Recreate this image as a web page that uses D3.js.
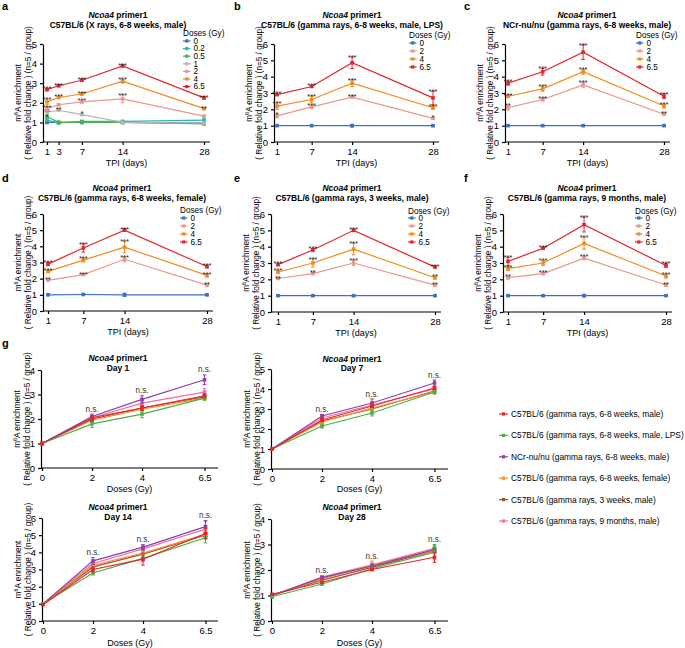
<!DOCTYPE html>
<html><head><meta charset="utf-8">
<script src="https://cdn.jsdelivr.net/npm/d3@7"></script>
<style>body{margin:0;background:#fff} svg text{font-family:Arial,"Liberation Sans",Helvetica,sans-serif}</style>
</head><body><svg id="c" width="685" height="648"></svg>
<script>
// ---------------- DATA ----------------
const daysA = [1, 3, 7, 14, 28];
const days4 = [1, 7, 14, 28];
const dosesA = ["0", "0.2", "0.5", "1", "2", "4", "6.5"];
const doses4 = ["0", "2", "4", "6.5"];
const colorsA = ["#3d6fc2", "#2fb5b5", "#4daf4a", "#b5b5b5", "#ea978c", "#f08c1e", "#e3262b"];
const colors4 = ["#3d6fc2", "#ea978c", "#f08c1e", "#e3262b"];

// panel a (X rays) rows = doses 0,0.2,0.5,1,2,4,6.5 ; cols = days 1,3,7,14,28
const a_mean = [
  [1.0, 1.0, 1.0, 1.0, 0.97],
  [1.12, 0.98, 1.05, 1.05, 1.12],
  [1.3, 1.0, 1.0, 1.0, 0.92],
  [1.52, 1.62, 1.4, 1.0, 0.97],
  [1.7, 1.9, 2.05, 2.2, 1.32],
  [2.05, 2.27, 2.45, 3.1, 1.7],
  [2.67, 2.87, 3.15, 3.88, 2.25]
];
const a_err = [
  [0.04, 0.03, 0.03, 0.05, 0.03],
  [0.05, 0.05, 0.05, 0.05, 0.05],
  [0.04, 0.03, 0.03, 0.03, 0.04],
  [0.05, 0.05, 0.05, 0.04, 0.04],
  [0.1, 0.06, 0.06, 0.2, 0.04],
  [0.15, 0.06, 0.06, 0.1, 0.05],
  [0.05, 0.05, 0.05, 0.05, 0.05]
];
const a_sig = [
  ["", "", "", "", ""],
  ["", "", "", "", ""],
  ["*", "", "", "", ""],
  ["**", "**", "*", "", ""],
  ["***", "", "***", "***", ""],
  ["***", "***", "***", "***", "**"],
  ["***", "***", "***", "***", "***"]
];

// panels b-f rows = doses 0,2,4,6.5 ; cols = days 1,7,14,28
const b_mean = [[1, 1, 1, 1], [1.6, 2.15, 2.75, 1.45], [2.2, 2.6, 3.6, 2.1], [2.9, 3.4, 4.85, 2.7]];
const b_err = [[0.03, 0.03, 0.08, 0.06], [0.12, 0.1, 0.05, 0.05], [0.2, 0.2, 0.2, 0.1], [0.06, 0.06, 0.35, 0.4]];
const b_sig = [["", "", "", ""], ["*", "***", "***", "*"], ["***", "***", "***", "***"], ["***", "***", "***", "***"]];

const c_mean = [[1, 1, 1, 1], [2.1, 2.6, 3.5, 1.7], [2.8, 3.25, 4.3, 2.2], [3.6, 4.3, 5.5, 2.8]];
const c_err = [[0.03, 0.03, 0.03, 0.03], [0.15, 0.08, 0.15, 0.08], [0.08, 0.15, 0.15, 0.12], [0.12, 0.2, 0.45, 0.15]];
const c_sig = [["", "", "", ""], ["**", "***", "***", "**"], ["***", "***", "***", "***"], ["***", "***", "***", "***"]];

const d_mean = [[1, 1.02, 1.0, 1.0], [1.9, 2.25, 3.2, 1.6], [2.45, 3.15, 3.95, 2.2], [2.9, 3.9, 5.0, 2.75]];
const d_err = [[0.03, 0.03, 0.1, 0.03], [0.05, 0.05, 0.15, 0.07], [0.08, 0.12, 0.35, 0.1], [0.1, 0.25, 0.08, 0.08]];
const d_sig = [["", "", "", ""], ["**", "***", "***", "**"], ["***", "***", "***", "***"], ["***", "***", "***", "***"]];

const e_mean = [[1, 1, 1, 1], [2.05, 2.35, 3.0, 1.65], [2.45, 3.0, 3.85, 2.1], [2.9, 3.8, 5.0, 2.75]];
const e_err = [[0.03, 0.03, 0.03, 0.03], [0.05, 0.06, 0.15, 0.05], [0.1, 0.25, 0.35, 0.08], [0.06, 0.08, 0.06, 0.05]];
const e_sig = [["", "", "", ""], ["**", "**", "***", "**"], ["***", "***", "***", "**"], ["***", "***", "***", "***"]];

const f_mean = [[1, 1, 1, 1], [2.1, 2.35, 3.3, 1.65], [2.65, 3.0, 4.2, 2.2], [3.1, 3.9, 5.35, 2.85]];
const f_err = [[0.03, 0.03, 0.08, 0.03], [0.08, 0.06, 0.1, 0.08], [0.1, 0.15, 0.35, 0.12], [0.25, 0.06, 0.45, 0.12]];
const f_sig = [["", "", "", ""], ["**", "***", "***", "**"], ["***", "***", "***", "***"], ["***", "***", "***", "***"]];

// panel g : x = doses, series = groups
const gDoses = [0, 2, 4, 6.5];
const gDoseLabels = ["0", "2", "4", "6.5"];
const gSeries = [
  "C57BL/6 (gamma rays, 6-8 weeks, male)",
  "C57BL/6 (gamma rays, 6-8 weeks, male, LPS)",
  "NCr-nu/nu (gamma rays, 6-8 weeks, male)",
  "C57BL/6 (gamma rays, 6-8 weeks, female)",
  "C57BL/6 (gamma rays, 3 weeks, male)",
  "C57BL/6 (gamma rays, 9 months, male)"
];
const gColors = ["#e3262b", "#4daf4a", "#8e3fa8", "#f5922f", "#a0522d", "#ec6fae"];

const g1_mean = [[1, 2.0, 2.45, 2.95], [1, 1.8, 2.2, 2.85], [1, 2.1, 2.8, 3.6], [1, 1.95, 2.4, 2.85], [1, 2.05, 2.45, 2.9], [1, 2.05, 2.65, 3.1]];
const g1_err = [[0.03, 0.1, 0.1, 0.08], [0.03, 0.15, 0.15, 0.08], [0.03, 0.1, 0.15, 0.2], [0.03, 0.08, 0.1, 0.08], [0.03, 0.06, 0.08, 0.06], [0.03, 0.1, 0.12, 0.15]];
const g2_mean = [[1, 2.45, 3.15, 4.05], [1, 2.15, 2.8, 3.85], [1, 2.65, 3.3, 4.3], [1, 2.35, 3.05, 3.85], [1, 2.4, 3.0, 3.9], [1, 2.55, 3.2, 4.0]];
const g2_err = [[0.03, 0.08, 0.08, 0.08], [0.03, 0.1, 0.15, 0.1], [0.03, 0.08, 0.2, 0.15], [0.03, 0.1, 0.12, 0.1], [0.03, 0.06, 0.2, 0.06], [0.03, 0.06, 0.15, 0.12]];
const g3_mean = [[0.95, 3.0, 3.6, 5.1], [1.0, 2.8, 3.65, 4.85], [1.0, 3.5, 4.3, 5.5], [1.0, 3.25, 3.95, 5.05], [1.0, 3.15, 3.9, 5.0], [1.0, 3.35, 4.2, 5.35]];
const g3_err = [[0.05, 0.15, 0.35, 0.3], [0.05, 0.12, 0.2, 0.3], [0.05, 0.2, 0.15, 0.35], [0.05, 0.1, 0.35, 0.2], [0.05, 0.1, 0.2, 0.08], [0.05, 0.1, 0.1, 0.45]];
const g4_mean = [[1.05, 1.52, 2.02, 2.5], [0.95, 1.45, 2.05, 2.7], [1.0, 1.7, 2.15, 2.8], [1.0, 1.65, 2.2, 2.75], [1.0, 1.6, 2.1, 2.75], [1.0, 1.72, 2.2, 2.85]];
const g4_err = [[0.03, 0.05, 0.05, 0.2], [0.05, 0.05, 0.06, 0.3], [0.03, 0.06, 0.08, 0.1], [0.03, 0.05, 0.15, 0.12], [0.03, 0.05, 0.06, 0.08], [0.03, 0.05, 0.08, 0.1]];

// ---------------- DRAWING ----------------
const svg = d3.select("#c");
const AX_W = 1.2;

function letter(x, y, t) {
  svg.append("text").attr("x", x).attr("y", y).attr("font-size", 11).attr("font-weight", "bold").text(t);
}
function title(cx, y1, y2, line2) {
  const t = svg.append("text").attr("x", cx).attr("y", y1 + 3).attr("text-anchor", "middle")
    .attr("font-weight", "bold").attr("font-size", 8.5);
  t.append("tspan").attr("font-style", "italic").text("Ncoa4");
  t.append("tspan").text(" primer1");
  svg.append("text").attr("x", cx).attr("y", y2 + 3).attr("text-anchor", "middle")
    .attr("font-weight", "bold").attr("font-size", 8.5).text(line2);
}
function yLabel(x1, x2, cy) {
  const g1 = svg.append("g").attr("transform", `translate(${x1},${cy}) rotate(-90)`);
  const t = g1.append("text").attr("text-anchor", "middle").attr("font-size", 8.2).attr("dy", "0.35em");
  t.append("tspan").text("m");
  t.append("tspan").attr("font-size", 5.5).attr("dy", -3).text("6");
  t.append("tspan").attr("dy", 3).text("A enrichment");
  svg.append("g").attr("transform", `translate(${x2},${cy}) rotate(-90)`)
    .append("text").attr("text-anchor", "middle").attr("font-size", 8.2).attr("dy", "0.35em")
    .text("( Relative fold change ) (n=5 / group)");
}
function styleAxis(sel) {
  sel.attr("font-family", null).attr("font-size", 9.5);
  sel.selectAll("path,line").attr("stroke", "#000").attr("stroke-width", AX_W);
  sel.selectAll("text").attr("fill", "#000");
}
function drawSeries(g, x, y, xs, mean, err, color, sig) {
  const pts = xs.map((d, i) => ({ x: d, m: mean[i], e: err[i], s: sig ? sig[i] : "" }));
  g.append("path").datum(pts).attr("fill", "none").attr("stroke", color).attr("stroke-width", 1.2)
    .attr("d", d3.line().x(d => x(d.x)).y(d => y(d.m)));
  const eb = g.append("g").attr("stroke", color).attr("stroke-width", 1);
  pts.forEach(p => {
    const cx = x(p.x), t = y(p.m + p.e), b = y(p.m - p.e);
    eb.append("line").attr("x1", cx).attr("x2", cx).attr("y1", t).attr("y2", b);
    eb.append("line").attr("x1", cx - 1.8).attr("x2", cx + 1.8).attr("y1", t).attr("y2", t);
    eb.append("line").attr("x1", cx - 1.8).attr("x2", cx + 1.8).attr("y1", b).attr("y2", b);
  });
  g.selectAll(null).data(pts).enter().append("rect")
    .attr("x", d => x(d.x) - 1.8).attr("y", d => y(d.m) - 1.8).attr("width", 3.6).attr("height", 3.6)
    .attr("fill", color);
  g.selectAll(null).data(pts.filter(d => d.s)).enter().append("text")
    .attr("x", d => x(d.x)).attr("y", d => y(d.m + d.e) + 2.8).attr("text-anchor", "middle")
    .attr("font-size", 7.5).attr("fill", "#222").text(d => d.s);
}
function legendItem(x, y, color, label, len, fs) {
  svg.append("line").attr("x1", x).attr("x2", x + len).attr("y1", y).attr("y2", y)
    .attr("stroke", color).attr("stroke-width", 1.2);
  svg.append("rect").attr("x", x + len / 2 - 1.6).attr("y", y - 1.6).attr("width", 3.2).attr("height", 3.2).attr("fill", color);
  svg.append("text").attr("x", x + len + 3).attr("y", y).attr("dy", "0.35em").attr("font-size", fs).text(label);
}

function tpiPanel(o, days, doses, colors, mean, err, sig) {
  const x = d3.scaleLinear().domain([1, 28]).range([o.p1, o.p28]);
  const y = d3.scaleLinear().domain([0, o.yMax]).range([o.y0, o.yTop]);
  const g = svg.append("g");
  const ya = g.append("g").attr("transform", `translate(${o.ax},0)`)
    .call(d3.axisLeft(y).ticks(o.yMax).tickSize(3).tickSizeOuter(0).tickFormat(d3.format("d")));
  styleAxis(ya);
  const xa = g.append("g").attr("transform", `translate(0,${o.y0})`)
    .call(d3.axisBottom(x).tickValues(days).tickSize(3).tickFormat(d => d));
  xa.select(".domain").remove();
  styleAxis(xa);
  g.append("line").attr("x1", o.ax).attr("x2", o.xEnd).attr("y1", o.y0).attr("y2", o.y0)
    .attr("stroke", "#000").attr("stroke-width", AX_W);
  g.append("text").attr("x", (o.ax + o.xEnd) / 2).attr("y", o.y0 + 23.5).attr("text-anchor", "middle")
    .attr("font-size", 9).text("TPI (days)");
  yLabel(o.ax - 25, o.ax - 15, (o.y0 + o.yTop) / 2);
  title(o.cx, o.t1, o.t2, o.line2);
  letter(o.lx, o.ly, o.letter);
  mean.forEach((m, i) => drawSeries(g, x, y, days, m, err[i], colors[i], sig[i]));
  svg.append("text").attr("x", o.legX).attr("y", o.legT).attr("dy", "0.35em").attr("font-size", 8.2).text("Doses (Gy)");
  doses.forEach((d, i) => legendItem(o.legX, o.leg0 + i * o.legDy, colors[i], d, 7.5, 8.2));
}

function dosePanel(o, mean, err) {
  const x = d3.scaleLinear().domain([0, 6.5]).range([o.p0, o.p0 + 162.5]);
  const y = d3.scaleLinear().domain([0, o.yMax]).range([o.y0, o.yTop]);
  const g = svg.append("g");
  const ya = g.append("g").attr("transform", `translate(${o.ax},0)`)
    .call(d3.axisLeft(y).ticks(o.yMax).tickSize(3).tickSizeOuter(0).tickFormat(d3.format("d")));
  styleAxis(ya);
  const xa = g.append("g").attr("transform", `translate(0,${o.y0})`)
    .call(d3.axisBottom(x).tickValues(gDoses).tickSize(3).tickFormat((d, i) => gDoseLabels[i]));
  xa.select(".domain").remove();
  styleAxis(xa);
  g.append("line").attr("x1", o.ax).attr("x2", o.xEnd).attr("y1", o.y0).attr("y2", o.y0)
    .attr("stroke", "#000").attr("stroke-width", AX_W);
  g.append("text").attr("x", (o.ax + o.xEnd) / 2).attr("y", o.y0 + o.labOff).attr("text-anchor", "middle")
    .attr("font-size", 9).text("Doses (Gy)");
  yLabel(o.ax - 24, o.ax - 14, (o.y0 + o.yTop) / 2);
  title(o.cx, o.t1, o.t2, o.line2);
  for (let i = mean.length - 1; i >= 0; i--) drawSeries(g, x, y, gDoses, mean[i], err[i], gColors[i], null);
  gDoses.forEach((d, j) => {
    if (j === 0) return;
    const top = d3.max(mean, (m, i) => m[j] + err[i][j]);
    g.append("text").attr("x", x(d)).attr("y", y(top) - 2.5).attr("text-anchor", "middle")
      .attr("font-size", 8.2).attr("fill", "#333").text("n.s.");
  });
}

// ---- panels a-f ----
tpiPanel({ ax: 43, p1: 47, p28: 204, xEnd: 210, y0: 142, yTop: 44, yMax: 5, cx: 118, t1: 15, t2: 25,
  line2: "C57BL/6 (X rays, 6-8 weeks, male)", lx: 2, ly: 10, letter: "a", legX: 183, legT: 33, leg0: 41, legDy: 7.6 },
  daysA, dosesA, colorsA, a_mean, a_err, a_sig);
tpiPanel({ ax: 274, p1: 277, p28: 433, xEnd: 439, y0: 142, yTop: 44, yMax: 6, cx: 352, t1: 15, t2: 25,
  line2: "C57BL/6 (gamma rays, 6-8 weeks, male, LPS)", lx: 234, ly: 10, letter: "b", legX: 409, legT: 35, leg0: 43, legDy: 8 },
  days4, doses4, colors4, b_mean, b_err, b_sig);
tpiPanel({ ax: 505, p1: 508, p28: 664, xEnd: 670, y0: 142, yTop: 44, yMax: 6, cx: 587, t1: 15, t2: 25,
  line2: "NCr-nu/nu (gamma rays, 6-8 weeks, male)", lx: 464, ly: 10, letter: "c", legX: 636, legT: 35, leg0: 43, legDy: 8 },
  days4, doses4, colors4, c_mean, c_err, c_sig);
tpiPanel({ ax: 43, p1: 48, p28: 207, xEnd: 213, y0: 311, yTop: 214, yMax: 6, cx: 122, t1: 188, t2: 198,
  line2: "C57BL/6 (gamma rays, 6-8 weeks, female)", lx: 2, ly: 182, letter: "d", legX: 180, legT: 210, leg0: 218, legDy: 8 },
  days4, doses4, colors4, d_mean, d_err, d_sig);
tpiPanel({ ax: 271, p1: 278, p28: 435, xEnd: 441, y0: 312, yTop: 214, yMax: 6, cx: 352, t1: 188, t2: 198,
  line2: "C57BL/6 (gamma rays, 3 weeks, male)", lx: 234, ly: 182, letter: "e", legX: 408, legT: 211, leg0: 218, legDy: 8 },
  days4, doses4, colors4, e_mean, e_err, e_sig);
tpiPanel({ ax: 503, p1: 508, p28: 666, xEnd: 672, y0: 312, yTop: 214, yMax: 6, cx: 587, t1: 188, t2: 198,
  line2: "C57BL/6 (gamma rays, 9 months, male)", lx: 464, ly: 182, letter: "f", legX: 635, legT: 211, leg0: 218, legDy: 8 },
  days4, doses4, colors4, f_mean, f_err, f_sig);

// ---- panel g ----
letter(2, 347, "g");
dosePanel({ ax: 41, p0: 42, xEnd: 218, y0: 468, yTop: 370, yMax: 4, cx: 118, t1: 358, t2: 368, line2: "Day 1", labOff: 23.5 }, g1_mean, g1_err);
dosePanel({ ax: 271, p0: 272, xEnd: 448, y0: 469, yTop: 369, yMax: 5, cx: 352, t1: 359, t2: 368, line2: "Day 7", labOff: 22.5 }, g2_mean, g2_err);
dosePanel({ ax: 42, p0: 43, xEnd: 218, y0: 621, yTop: 518, yMax: 6, cx: 118, t1: 507, t2: 517, line2: "Day 14", labOff: 25 }, g3_mean, g3_err);
dosePanel({ ax: 271, p0: 272, xEnd: 448, y0: 621, yTop: 519, yMax: 4, cx: 352, t1: 507, t2: 517, line2: "Day 28", labOff: 25 }, g4_mean, g4_err);

gSeries.forEach((s, i) => legendItem(499, 414 + i * 21.4, gColors[i], s, 9, 8.4));
</script></body></html>
